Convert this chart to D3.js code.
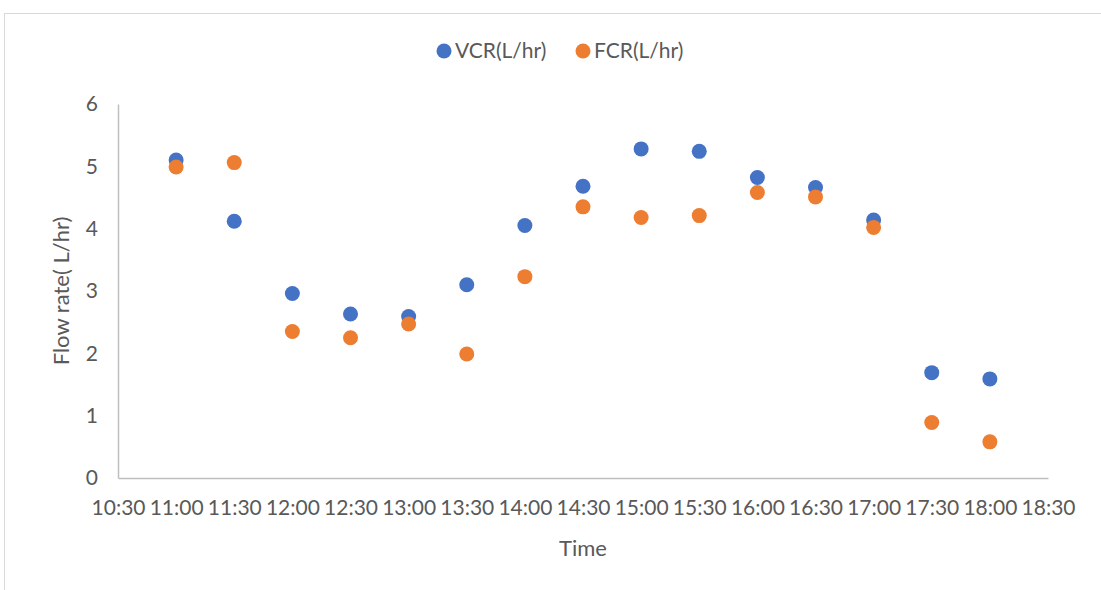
<!DOCTYPE html>
<html>
<head>
<meta charset="utf-8">
<script src="https://cdn.jsdelivr.net/npm/d3@7"></script>
<style>
  body { margin: 0; background: #fff; }
  text { font-family: Lato, "Open Sans", sans-serif; fill: #595959; }
</style>
</head>
<body>
<svg width="1101" height="590"></svg>
<script>
var times = ["11:00","11:30","12:00","12:30","13:00","13:30","14:00","14:30","15:00","15:30","16:00","16:30","17:00","17:30","18:00"];
var vcr = [5.10, 4.12, 2.96, 2.63, 2.59, 3.10, 4.05, 4.68, 5.28, 5.24, 4.82, 4.66, 4.14, 1.69, 1.59];
var fcr = [4.99, 5.06, 2.35, 2.25, 2.47, 1.99, 3.23, 4.35, 4.18, 4.21, 4.58, 4.51, 4.02, 0.89, 0.58];
var xTicks = ["10:30","11:00","11:30","12:00","12:30","13:00","13:30","14:00","14:30","15:00","15:30","16:00","16:30","17:00","17:30","18:00","18:30"];
var yTicks = [0, 1, 2, 3, 4, 5, 6];

var svg = d3.select("svg"),
    margin = {top: 104, right: 53, bottom: 112, left: 118},
    width = svg.attr("width") - margin.left - margin.right,
    height = svg.attr("height") - margin.top - margin.bottom;

// chart frame (cropped on the right/bottom like the original)
svg.append("rect")
    .attr("x", 4.5).attr("y", 13.5)
    .attr("width", 1200).attr("height", 700)
    .attr("fill", "none").attr("stroke", "#d9d9d9");

var g = svg.append("g").attr("transform", "translate(" + margin.left + "," + margin.top + ")");

function hours(s) {
  var p = s.split(":");
  return +p[0] + p[1] / 60;
}

var x = d3.scaleLinear().domain([hours(xTicks[0]), hours(xTicks[xTicks.length - 1])]).range([0, width]),
    y = d3.scaleLinear().domain([0, 6]).range([height, 0]);

var series = [
  {id: "VCR(L/hr)", color: "#4472c4", values: vcr},
  {id: "FCR(L/hr)", color: "#ed7d31", values: fcr}
];

// axes
var xAxis = g.append("g")
    .attr("transform", "translate(0," + height + ")")
    .call(d3.axisBottom(x)
      .tickValues(xTicks.map(hours))
      .tickFormat(function(d, i) { return xTicks[i]; })
      .tickSize(0).tickPadding(22));
xAxis.select(".domain").attr("stroke", "#bfbfbf").attr("stroke-width", 1.5);
xAxis.selectAll("text").style("font-size", "21px").style("fill", "#595959").style("font-family", "Lato, sans-serif");

var yAxis = g.append("g")
    .call(d3.axisLeft(y).tickValues(yTicks).tickFormat(d3.format("d")).tickSize(0).tickPadding(20));
yAxis.select(".domain").attr("stroke", "#bfbfbf").attr("stroke-width", 1.5);
yAxis.selectAll("text").style("font-size", "21px").style("fill", "#595959").style("font-family", "Lato, sans-serif");

// points
series.forEach(function(s) {
  g.selectAll(".dot-" + s.id.slice(0, 3))
    .data(s.values)
    .enter().append("circle")
      .attr("cx", function(d, i) { return x(hours(times[i])); })
      .attr("cy", function(d) { return y(d); })
      .attr("r", 7.5)
      .attr("fill", s.color);
});

// axis titles
svg.append("text")
    .attr("x", margin.left + width / 2).attr("y", 556)
    .attr("text-anchor", "middle")
    .style("font-size", "22px")
    .text("Time");

svg.append("text")
    .attr("transform", "translate(69," + (margin.top + height / 2) + ") rotate(-90)")
    .attr("text-anchor", "middle")
    .style("font-size", "22px")
    .text("Flow rate( L/hr)");

// legend
var legend = svg.append("g").attr("transform", "translate(444,51)");
var item = legend.selectAll("g")
    .data(series)
    .enter().append("g")
      .attr("transform", function(d, i) { return "translate(" + (i * 139) + ",0)"; });
item.append("circle").attr("r", 7.5).attr("fill", function(d) { return d.color; });
item.append("text")
    .attr("x", 11).attr("dy", "0.35em")
    .style("font-size", "21px")
    .text(function(d) { return d.id; });
</script>
</body>
</html>
